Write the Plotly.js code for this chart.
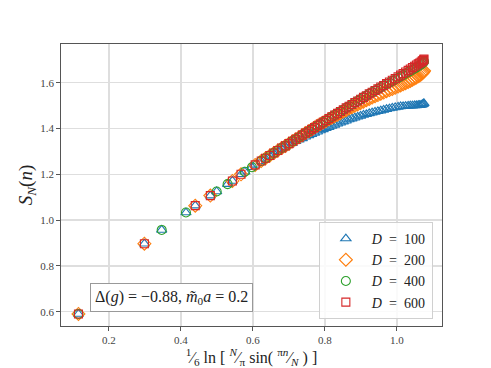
<!DOCTYPE html>
<html>
<head>
<meta charset="utf-8">
<script src="https://cdn.plot.ly/plotly-3.0.1.min.js"></script>
<style>html,body{margin:0;padding:0;background:#fff;}#chart{width:491px;height:368px;}</style>
</head>
<body>
<div id="chart"></div>
<script>
// Sparse points (small n)
const xSparseA = [0.1155, 0.2986, 0.4398, 0.4817, 0.543, 0.5669, 0.6062];
const ySparseA = [0.590, 0.897, 1.063, 1.107, 1.171, 1.200, 1.241];
const xSparseB = [0.1155, 0.3466, 0.414, 0.4993, 0.5297, 0.5776, 0.5972];
const ySparseB = [0.590, 0.957, 1.033, 1.125, 1.157, 1.211, 1.231];
const xSparseAll = [0.1155, 0.2986, 0.3466, 0.414, 0.4398, 0.4817, 0.4993, 0.5297, 0.543, 0.5669, 0.5776, 0.5972, 0.6062];
const ySparseAll = [0.590, 0.897, 0.957, 1.033, 1.063, 1.107, 1.125, 1.157, 1.171, 1.200, 1.211, 1.231, 1.241];

// Dense region (large n)
const xDense = [0.623, 0.635, 0.647, 0.658, 0.669, 0.680, 0.690, 0.700, 0.710, 0.719,
  0.728, 0.737, 0.746, 0.755, 0.763, 0.771, 0.779, 0.787, 0.795, 0.803,
  0.811, 0.819, 0.827, 0.835, 0.843, 0.851, 0.859, 0.867, 0.875, 0.883,
  0.891, 0.899, 0.907, 0.915, 0.923, 0.931, 0.939, 0.947, 0.955, 0.963,
  0.971, 0.979, 0.987, 0.995, 1.003, 1.010, 1.017, 1.024, 1.031, 1.037,
  1.043, 1.049, 1.054, 1.059, 1.063, 1.067, 1.070, 1.072, 1.074, 1.075];

const yD100 = [1.257, 1.268, 1.280, 1.290, 1.301, 1.311, 1.320, 1.329, 1.337, 1.344,
  1.351, 1.357, 1.364, 1.370, 1.375, 1.381, 1.386, 1.391, 1.396, 1.401,
  1.406, 1.411, 1.416, 1.421, 1.425, 1.430, 1.434, 1.439, 1.443, 1.447,
  1.451, 1.455, 1.459, 1.462, 1.466, 1.469, 1.472, 1.475, 1.478, 1.481,
  1.484, 1.487, 1.490, 1.492, 1.494, 1.496, 1.497, 1.498, 1.499, 1.500,
  1.500, 1.501, 1.501, 1.502, 1.502, 1.503, 1.504, 1.506, 1.508, 1.510];

const yD200 = [1.258, 1.270, 1.282, 1.293, 1.304, 1.315, 1.324, 1.334, 1.344, 1.353,
  1.362, 1.371, 1.380, 1.388, 1.396, 1.404, 1.412, 1.419, 1.426, 1.433,
  1.440, 1.447, 1.454, 1.460, 1.467, 1.474, 1.480, 1.487, 1.493, 1.499,
  1.505, 1.511, 1.517, 1.523, 1.529, 1.535, 1.541, 1.546, 1.552, 1.557,
  1.563, 1.568, 1.573, 1.578, 1.583, 1.588, 1.593, 1.598, 1.603, 1.608,
  1.613, 1.618, 1.623, 1.628, 1.632, 1.637, 1.641, 1.645, 1.648, 1.652];

const yD400 = [1.258, 1.270, 1.282, 1.293, 1.304, 1.315, 1.324, 1.334, 1.344, 1.353,
  1.362, 1.371, 1.380, 1.388, 1.396, 1.404, 1.412, 1.419, 1.427, 1.435,
  1.443, 1.451, 1.459, 1.466, 1.474, 1.482, 1.490, 1.497, 1.505, 1.513,
  1.520, 1.528, 1.536, 1.543, 1.551, 1.558, 1.565, 1.572, 1.579, 1.586,
  1.593, 1.600, 1.607, 1.614, 1.621, 1.627, 1.633, 1.640, 1.646, 1.651,
  1.657, 1.662, 1.667, 1.672, 1.676, 1.680, 1.684, 1.687, 1.690, 1.693];

const yD600 = [1.258, 1.270, 1.282, 1.293, 1.304, 1.315, 1.324, 1.334, 1.344, 1.353,
  1.362, 1.371, 1.380, 1.388, 1.396, 1.404, 1.412, 1.419, 1.427, 1.435,
  1.443, 1.451, 1.459, 1.466, 1.474, 1.482, 1.490, 1.497, 1.505, 1.513,
  1.520, 1.528, 1.536, 1.543, 1.551, 1.558, 1.566, 1.573, 1.581, 1.588,
  1.596, 1.603, 1.611, 1.618, 1.626, 1.633, 1.640, 1.647, 1.654, 1.660,
  1.666, 1.672, 1.677, 1.682, 1.686, 1.690, 1.694, 1.697, 1.700, 1.703];

const seriesNames = ['<i>D</i>\u2002=\u2002100', '<i>D</i>\u2002=\u2002200', '<i>D</i>\u2002=\u2002400', '<i>D</i>\u2002=\u2002600'];
const colors = ['#1f77b4', '#ff7f0e', '#2ca02c', '#d62728'];
const symbols = ['triangle-up-open', 'diamond-open', 'circle-open', 'square-open'];
const sizes = [9, 10, 9, 8];

const seriesX = [
  xSparseAll.concat(xDense),
  xSparseA.concat(xDense),
  xSparseB.concat(xDense),
  xSparseA.concat(xDense)
];
const seriesY = [
  ySparseAll.concat(yD100),
  ySparseA.concat(yD200),
  ySparseB.concat(yD400),
  ySparseA.concat(yD600)
];

const traces = seriesNames.map((name, i) => ({
  type: 'scatter',
  mode: 'markers',
  name: name,
  x: seriesX[i],
  y: seriesY[i],
  marker: {symbol: symbols[i], size: sizes[i], color: colors[i], line: {color: colors[i], width: 1.1}}
}));

const FONT = 'Liberation Serif, DejaVu Serif, serif';

const layout = {
  width: 491, height: 368,
  margin: {l: 61, r: 49, t: 44, b: 42},
  paper_bgcolor: '#fff', plot_bgcolor: '#fff',
  font: {family: FONT, color: '#333', size: 11},
  showlegend: true,
  legend: {
    x: 0.976, y: 0.025, xanchor: 'right', yanchor: 'bottom',
    bgcolor: 'rgba(255,255,255,0.85)', bordercolor: '#d0d0d0', borderwidth: 1,
    font: {family: FONT, size: 14, color: '#222'},
    itemwidth: 42
  },
  xaxis: {
    range: [0.067, 1.125],
    tickvals: [0.2, 0.4, 0.6, 0.8, 1.0],
    ticktext: ['0.2', '0.4', '0.6', '0.8', '1.0'],
    showgrid: true, gridcolor: '#dedede', gridwidth: 1.5,
    zeroline: false,
    showline: true, linecolor: '#555', linewidth: 1.2, mirror: true,
    ticks: 'outside', ticklen: 3.5, tickcolor: '#555', tickwidth: 1,
    tickfont: {family: FONT, size: 11, color: '#444'},
    title: {text: '<sup>1</sup>⁄<sub>6</sub> ln [ <sup><i>N</i></sup>⁄<sub>π</sub> sin( <sup>π<i>n</i></sup>⁄<sub><i>N</i></sub> ) ]', font: {family: FONT, size: 16, color: '#222'}, standoff: 4}
  },
  yaxis: {
    range: [0.5375, 1.769],
    tickvals: [0.6, 0.8, 1.0, 1.2, 1.4, 1.6],
    ticktext: ['0.6', '0.8', '1.0', '1.2', '1.4', '1.6'],
    showgrid: true, gridcolor: '#dedede', gridwidth: 1.5,
    zeroline: false,
    showline: true, linecolor: '#555', linewidth: 1.2, mirror: true,
    ticks: 'outside', ticklen: 3.5, tickcolor: '#555', tickwidth: 1,
    tickfont: {family: FONT, size: 11, color: '#444'},
    title: {text: '<i>S</i><sub><i>N</i></sub>(<i>n</i>)', font: {family: FONT, size: 19, color: '#222'}, standoff: 2}
  },
  annotations: [{
    xref: 'paper', yref: 'paper', x: 0.291, y: 0.102,
    xanchor: 'center', yanchor: 'middle', showarrow: false,
    text: 'Δ(<i>g</i>) = −0.88, <i>m\u0303</i><sub>0</sub><i>a</i> = 0.2',
    font: {family: FONT, size: 16, color: '#222'},
    bgcolor: '#fff', bordercolor: '#999', borderwidth: 1, borderpad: 4
  }]
};

Plotly.newPlot('chart', traces, layout, {displayModeBar: false, staticPlot: true});
</script>
</body>
</html>
